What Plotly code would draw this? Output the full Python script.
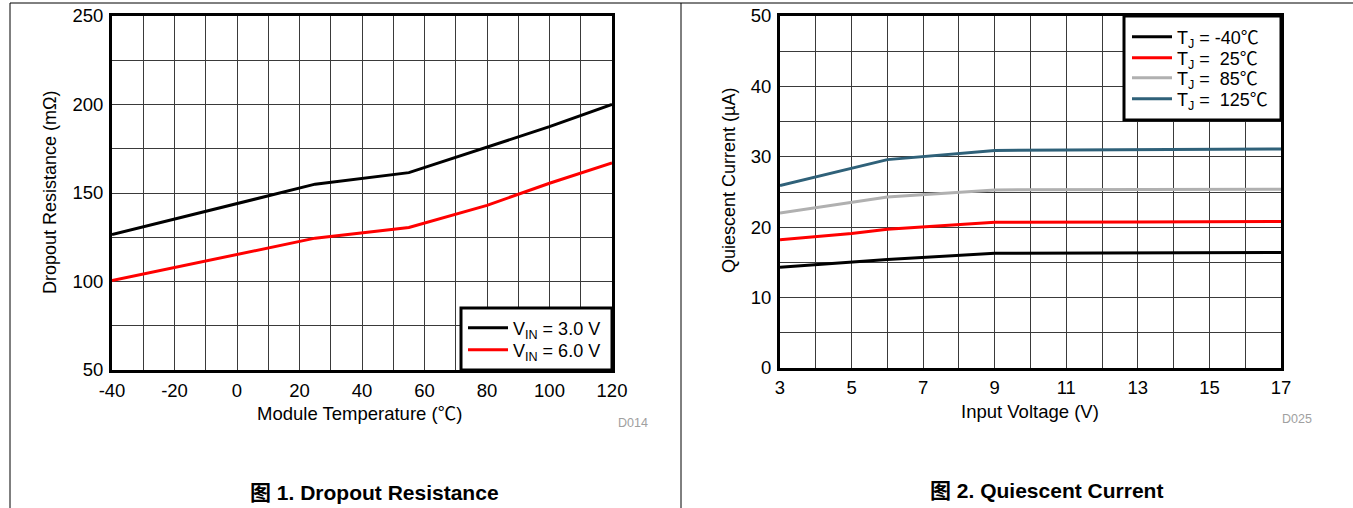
import plotly.graph_objects as go

W, H = 1353, 508

# ---- data: left chart (Dropout Resistance) ----
temp_c = [-40, 25, 55, 80, 100, 120]
r_vin3 = [126.5, 155, 161.5, 176, 187.5, 200]
r_vin6 = [100.5, 124.5, 130.5, 143, 155.5, 167]
x1_ticks = [-40, -20, 0, 20, 40, 60, 80, 100, 120]
x1_labels = ["-40", "-20", "0", "20", "40", "60", "80", "100", "120"]
y1_ticks = [50, 100, 150, 200, 250]
y1_labels = ["50", "100", "150", "200", "250"]

# ---- data: right chart (Quiescent Current) ----
vin = [3, 5, 6, 9, 13, 17]
iq_m40 = [14.3, 15.0, 15.4, 16.3, 16.35, 16.4]
iq_25 = [18.2, 19.1, 19.7, 20.7, 20.75, 20.8]
iq_85 = [22.0, 23.5, 24.3, 25.3, 25.35, 25.4]
iq_125 = [25.9, 28.3, 29.6, 30.9, 31.0, 31.1]
x2_ticks = [3, 5, 7, 9, 11, 13, 15, 17]
x2_labels = ["3", "5", "7", "9", "11", "13", "15", "17"]
y2_ticks = [0, 10, 20, 30, 40, 50]
y2_labels = ["0", "10", "20", "30", "40", "50"]

FONT = "Liberation Sans, Arial, Noto Sans CJK SC, DejaVu Sans"

def px(x):
    return x / W

def py(y):
    return 1 - y / H

fig = go.Figure()

series = [
    (temp_c, r_vin3, "V<sub>IN</sub> = 3.0 V", "black", "x", "y", "legend"),
    (temp_c, r_vin6, "V<sub>IN</sub> = 6.0 V", "#ff0000", "x", "y", "legend2"),
    (vin, iq_m40, "T<sub>J</sub> = -40℃", "black", "x2", "y2", "legend3"),
    (vin, iq_25, "T<sub>J</sub> =  25℃", "#ff0000", "x2", "y2", "legend4"),
    (vin, iq_85, "T<sub>J</sub> =  85℃", "#b0b0b0", "x2", "y2", "legend5"),
    (vin, iq_125, "T<sub>J</sub> =  125℃", "#2f6179", "x2", "y2", "legend6"),
]
for xs, ys, name, color, xa, ya, lg in series:
    fig.add_trace(go.Scatter(x=xs, y=ys, mode="lines", name=name,
                             line=dict(color=color, width=3),
                             xaxis=xa, yaxis=ya, legend=lg))

grid = "#3a3a3a"
common = dict(showline=True, linecolor="black", linewidth=3, mirror=True,
              showgrid=True, gridcolor=grid, gridwidth=1, zeroline=False,
              ticks="", tickfont=dict(family=FONT, size=18.5, color="black"),
              fixedrange=True, automargin=False)

def legend_at(x, y):
    return dict(x=px(x), y=py(y), xanchor="left", yanchor="middle",
                bgcolor="rgba(0,0,0,0)", borderwidth=0,
                font=dict(family=FONT, size=18, color="black"),
                itemwidth=40, tracegroupgap=0)

fig.update_layout(
    width=W, height=H,
    margin=dict(l=0, r=0, t=0, b=0, autoexpand=False),
    paper_bgcolor="white", plot_bgcolor="white",
    font=dict(family=FONT, color="black"),
    xaxis=dict(domain=[px(112), px(612)], range=[-40, 120],
               tickmode="array", tickvals=x1_ticks, ticktext=x1_labels,
               minor=dict(dtick=10, tick0=-40, showgrid=True, gridcolor=grid, gridwidth=1),
               anchor="y", ticklabelstandoff=2, **common),
    yaxis=dict(domain=[py(370), py(16)], range=[50, 250],
               tickmode="array", tickvals=y1_ticks, ticktext=y1_labels,
               minor=dict(dtick=25, tick0=50, showgrid=True, gridcolor=grid, gridwidth=1),
               anchor="x", ticklabelstandoff=2, **common),
    xaxis2=dict(domain=[px(780), px(1281)], range=[3, 17],
                tickmode="array", tickvals=x2_ticks, ticktext=x2_labels,
                minor=dict(dtick=1, tick0=3, showgrid=True, gridcolor=grid, gridwidth=1),
                anchor="y2", ticklabelstandoff=1, **common),
    yaxis2=dict(domain=[py(368), py(16)], range=[0, 50],
                tickmode="array", tickvals=y2_ticks, ticktext=y2_labels,
                minor=dict(dtick=5, tick0=0, showgrid=True, gridcolor=grid, gridwidth=1),
                anchor="x2", ticklabelstandoff=2, **common),
    legend=legend_at(463, 328),
    legend2=legend_at(463, 350),
    legend3=legend_at(1127, 37),
    legend4=legend_at(1127, 58),
    legend5=legend_at(1127, 78),
    legend6=legend_at(1127, 99),
    showlegend=True,
)

shapes = [
    dict(type="line", xref="paper", yref="paper", x0=px(10), x1=1, y0=py(3), y1=py(3),
         line=dict(color="black", width=1)),
    dict(type="line", xref="paper", yref="paper", x0=px(10), x1=px(10), y0=py(3), y1=0,
         line=dict(color="black", width=1)),
    dict(type="line", xref="paper", yref="paper", x0=px(681), x1=px(681), y0=py(3), y1=0,
         line=dict(color="black", width=1)),
    # legend frames
    dict(type="rect", xref="paper", yref="paper", x0=px(461), x1=px(612), y0=py(370), y1=py(308),
         fillcolor="white", line=dict(color="black", width=3), layer="above"),
    dict(type="rect", xref="paper", yref="paper", x0=px(1124), x1=px(1281), y0=py(120), y1=py(16),
         fillcolor="white", line=dict(color="black", width=3), layer="above"),
]
fig.update_layout(shapes=shapes)

ann = [
    dict(text="Dropout Resistance (mΩ)", x=px(50), y=py(192), textangle=-90, size=18),
    dict(text="Module Temperature (℃)", x=px(360), y=py(413), size=18.5),
    dict(text="D014", x=px(633), y=py(423), size=12.5, color="#a0a0a0"),
    dict(text="<b>图 1. Dropout Resistance</b>", x=px(374), y=py(492), size=21),
    dict(text="Quiescent Current (µA)", x=px(729), y=py(181), textangle=-90, size=18),
    dict(text="Input Voltage (V)", x=px(1030), y=py(411), size=18.5),
    dict(text="D025", x=px(1297), y=py(419), size=12.5, color="#a0a0a0"),
    dict(text="<b>图 2. Quiescent Current</b>", x=px(1046), y=py(490), size=21),
]
fig.update_layout(annotations=[
    dict(text=a["text"], x=a["x"], y=a["y"], xref="paper", yref="paper",
         xanchor="center", yanchor="middle", showarrow=False,
         textangle=a.get("textangle", 0),
         font=dict(family=FONT, size=a["size"], color=a.get("color", "black")))
    for a in ann
])

fig.write_html("out.html", config={"displayModeBar": False},
               post_script="document.body.style.margin='0';")
